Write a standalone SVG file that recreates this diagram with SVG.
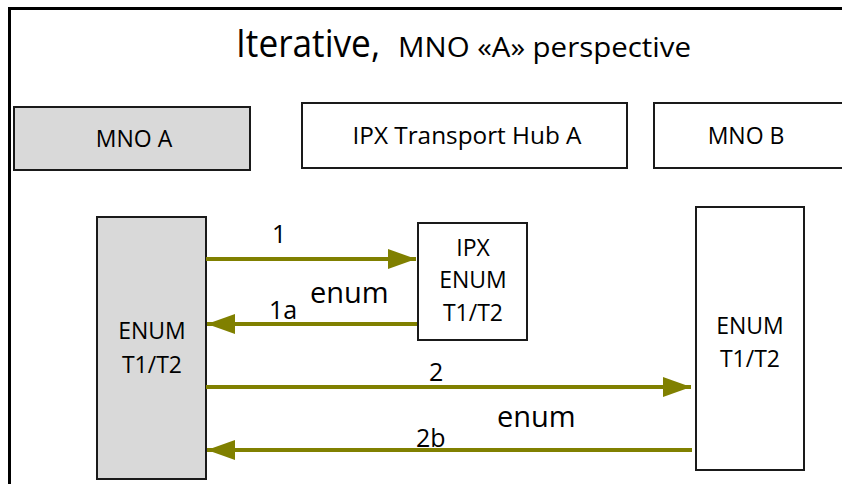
<svg xmlns="http://www.w3.org/2000/svg" width="842" height="484" viewBox="0 0 842 484">
  <style>
    text { font-family: "Open Sans", "Liberation Sans", sans-serif; fill: #000; }
    .box { stroke: #1a1a1a; stroke-width: 2; }
    .grey { fill: #d9d9d9; }
    .white { fill: #fff; }
    .lbl { font-size: 23px; text-anchor: middle; }
    .num { font-size: 25px; }
    .enum { font-size: 29px; }
    .flow { stroke: #808000; stroke-width: 4; fill: none; }
  </style>
  <defs>
    <marker id="head" viewBox="0 0 28 20" refX="28" refY="10" markerWidth="28" markerHeight="20" markerUnits="userSpaceOnUse" orient="auto">
      <path d="M0,0 L28,10 L0,20 Z" fill="#808000"/>
    </marker>
  </defs>

  <rect width="842" height="484" fill="#fff"/>
  <!-- frame -->
  <path d="M9.5,484 V8.5 H842" fill="none" stroke="#000" stroke-width="3"/>

  <!-- title -->
  <text x="236" y="57"><tspan font-size="38" textLength="144" lengthAdjust="spacingAndGlyphs">Iterative,</tspan><tspan x="398" font-size="27" textLength="293" lengthAdjust="spacingAndGlyphs">MNO «A» perspective</tspan></text>

  <!-- lane headers -->
  <g id="mno-a">
    <rect class="box grey" x="14" y="107" width="236" height="63"/>
    <text class="lbl" x="134" y="147">MNO A</text>
  </g>
  <g id="ipx-hub">
    <rect class="box white" x="302" y="103" width="325" height="65"/>
    <text class="lbl" x="467" y="144" textLength="229" lengthAdjust="spacingAndGlyphs">IPX Transport Hub A</text>
  </g>
  <g id="mno-b">
    <rect class="box white" x="654" y="103" width="200" height="65"/>
    <text class="lbl" x="746" y="144">MNO B</text>
  </g>

  <!-- ENUM servers -->
  <g id="enum-a">
    <rect class="box grey" x="97" y="217" width="109" height="262"/>
    <text class="lbl" x="152" y="339">ENUM</text>
    <text class="lbl" x="152" y="373">T1/T2</text>
  </g>
  <g id="enum-ipx">
    <rect class="box white" x="418" y="223" width="109" height="117"/>
    <text class="lbl" x="473" y="256">IPX</text>
    <text class="lbl" x="473" y="288">ENUM</text>
    <text class="lbl" x="473" y="321">T1/T2</text>
  </g>
  <g id="enum-b">
    <rect class="box white" x="696" y="207" width="108" height="263"/>
    <text class="lbl" x="750" y="334">ENUM</text>
    <text class="lbl" x="750" y="367">T1/T2</text>
  </g>

  <!-- query / response flows -->
  <g id="flows">
    <line class="flow" x1="206" y1="259" x2="416" y2="259" marker-end="url(#head)"/>
    <line class="flow" x1="417" y1="324" x2="207" y2="324" marker-end="url(#head)"/>
    <line class="flow" x1="206" y1="387" x2="691" y2="387" marker-end="url(#head)"/>
    <line class="flow" x1="692" y1="450" x2="207" y2="450" marker-end="url(#head)"/>
    <text class="num" x="272" y="243">1</text>
    <text class="enum" x="310" y="303">enum</text>
    <text class="num" x="269" y="319">1a</text>
    <text class="num" x="429" y="381">2</text>
    <text class="enum" x="497" y="427">enum</text>
    <text class="num" x="416" y="447">2b</text>
  </g>
</svg>
